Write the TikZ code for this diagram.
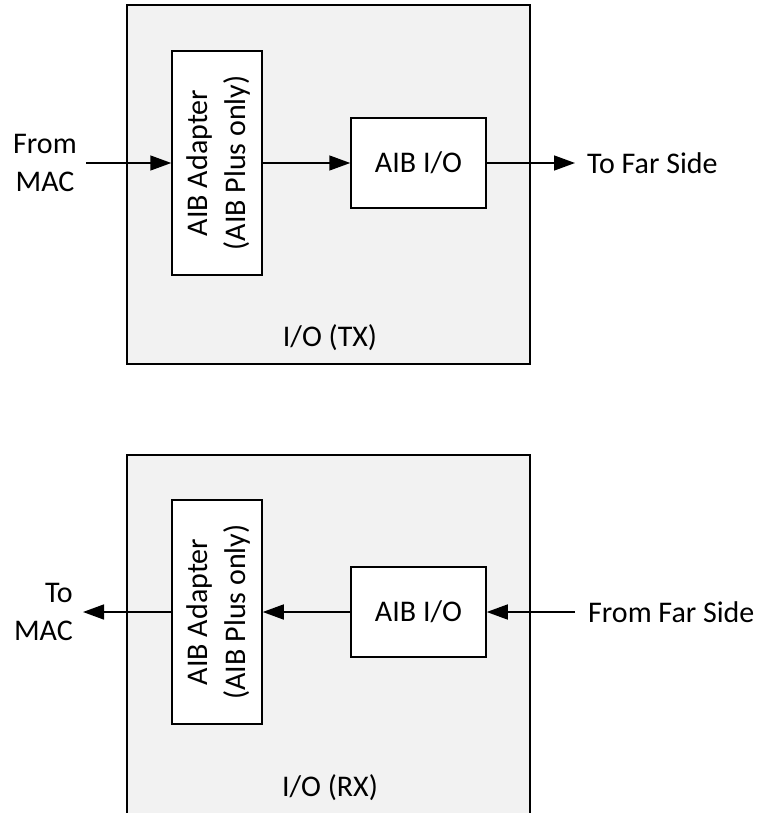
\documentclass[tikz,border=0pt]{standalone}
\usepackage{fontspec}
\setmainfont{Carlito}
\usetikzlibrary{arrows.meta}
\definecolor{boxgray}{HTML}{F2F2F2}
\begin{document}
\begin{tikzpicture}[x=1pt,y=-1pt,
  every node/.style={font=\fontsize{30}{38}\selectfont},
  outerbox/.style={draw,fill=boxgray,line width=1.5pt},
  inbox/.style={draw,fill=white,line width=1.5pt,inner sep=0pt},
  conn/.style={line width=1.5pt,-{Triangle[length=21pt,width=15pt]}},
  lbl/.style={inner sep=0pt,align=center}]
\useasboundingbox (0,0) rectangle (756,813);
\begin{scope}
\clip (0,0) rectangle (756,813);
% TX
\node[outerbox,minimum width=403pt,minimum height=359pt,inner sep=0pt] (txouter) at (328.5,184.5) {};
\node[inbox,minimum width=90pt,minimum height=224pt] (txadapt) at (217,163) {};
\node[lbl,rotate=90] (txadaptlbl) at (218,163) {AIB Adapter\\(AIB Plus only)};
\node[inbox,minimum width=135pt,minimum height=90pt] (txio) at (418.5,163) {AIB I/O};
\node[lbl] (frommac) at (45,163) {From\\MAC};
\node[lbl,anchor=west] (tofar) at (587,163) {To Far Side};
\node[lbl] (txlbl) at (330,338) {I/O (TX)};
\coordinate (txin) at (86,163);
\coordinate (txout) at (575,163);
\draw[conn] (txin) -- (txadapt.west);
\draw[conn] (txadapt.east) -- (txio.west);
\draw[conn] (txio.east) -- (txout);
% RX
\node[outerbox,minimum width=403pt,minimum height=365pt,inner sep=0pt] (rxouter) at (328.5,637.5) {};
\node[inbox,minimum width=90pt,minimum height=224pt] (rxadapt) at (217,612) {};
\node[lbl,rotate=90] (rxadaptlbl) at (218,612) {AIB Adapter\\(AIB Plus only)};
\node[inbox,minimum width=135pt,minimum height=90pt] (rxio) at (418.5,612) {AIB I/O};
\node[lbl,align=right,anchor=east] (tomac) at (73,612) {To\\MAC};
\node[lbl,anchor=west] (fromfar) at (588,612) {From Far Side};
\node[lbl] (rxlbl) at (330,788) {I/O (RX)};
\coordinate (rxout) at (83,612);
\coordinate (rxin) at (575,612);
\draw[conn] (rxadapt.west) -- (rxout);
\draw[conn] (rxio.west) -- (rxadapt.east);
\draw[conn] (rxin) -- (rxio.east);
\end{scope}
\end{tikzpicture}
\end{document}
